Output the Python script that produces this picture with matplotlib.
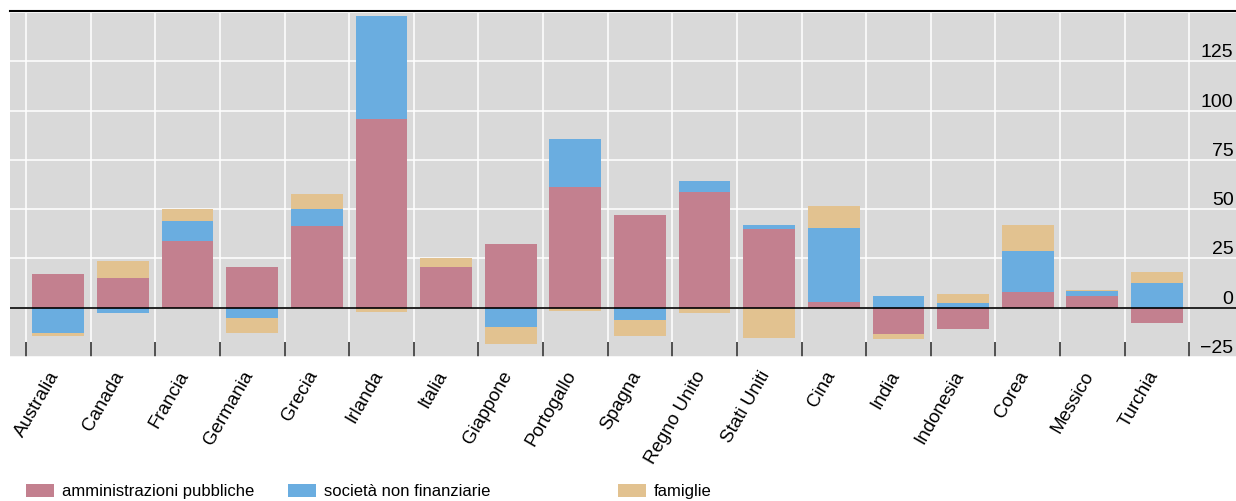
import numpy as np
import matplotlib
matplotlib.use("Agg")
import matplotlib.pyplot as plt
from matplotlib.lines import Line2D
from matplotlib.transforms import ScaledTranslation

plt.rcParams['font.family'] = ['Liberation Sans', 'DejaVu Sans']

paesi = ["Australia", "Canada", "Francia", "Germania", "Grecia", "Irlanda",
         "Italia", "Giappone", "Portogallo", "Spagna", "Regno Unito",
         "Stati Uniti", "Cina", "India", "Indonesia", "Corea", "Messico",
         "Turchia"]

# contributi per settore (punti percentuali)
amministrazioni = [16.9, 14.9, 33.8, 20.9, 41.7, 95.9, 20.9, 32.1, 61.5, 47.3,
                   58.9, 39.7, 2.7, -13.5, -11.0, 7.8, 5.7, -8.0]
societa = [-13.0, -2.9, 10.4, -5.4, 8.3, 52.3, 0.0, -10.0, 24.3, -6.4,
           5.6, 2.5, 38.0, 5.7, 2.2, 21.2, 2.6, 12.3]
famiglie = [-1.4, 8.6, 6.1, -7.6, 7.9, -2.4, 4.1, -8.6, -1.9, -8.1,
            -2.9, -15.6, 11.1, -2.6, 5.0, 13.2, 0.5, 5.6]

serie = [
    ("amministrazioni pubbliche", amministrazioni, "#c3808f"),
    ("società non finanziarie", societa, "#6aade0"),
    ("famiglie", famiglie, "#e2c290"),
]

yticks = [-25, 0, 25, 50, 75, 100, 125]

fig = plt.figure(figsize=(12.36, 5.01), dpi=100)
ax = fig.add_axes([10 / 1236, 1 - 357 / 501, 1 - 10 / 1236, (357 - 12.7) / 501])
ax.set_facecolor("#d9d9d9")

x = np.arange(len(paesi))
base_pos = np.zeros(len(paesi))
base_neg = np.zeros(len(paesi))
for nome, valori, colore in serie:
    v = np.array(valori)
    bottom = np.where(v >= 0, base_pos, base_neg)
    ax.bar(x, v, 0.8, bottom=bottom, color=colore, label=nome, zorder=2)
    base_pos = base_pos + np.clip(v, 0, None)
    base_neg = base_neg + np.clip(v, None, 0)

ax.axhline(0, color="black", lw=1.2, zorder=3)

ax.set_xlim(-0.748, len(paesi) - 0.5 + 0.723)
ax.set_ylim(-24.5, 149.7)

# griglia
ax.set_yticks(yticks)
ax.yaxis.grid(True, color="white", lw=1.1, zorder=1)
ax.set_xticks(np.arange(len(paesi) + 1) - 0.5, minor=True)
ax.xaxis.grid(True, which="minor", color="white", lw=1.1, zorder=1)
ax.set_axisbelow(True)
ax.tick_params(axis="y", length=0, labelleft=False)
ax.tick_params(axis="x", which="minor", direction="in", length=11, width=1.1,
               color="#222222")
ax.tick_params(axis="x", which="major", length=0, pad=8)
ax.set_xticks(x)
ax.set_xticklabels(paesi, rotation=60, ha="right", rotation_mode="anchor",
                   fontsize=13.5)
sposta = ScaledTranslation(-10 / 100, 0, fig.dpi_scale_trans)
for lab in ax.get_xticklabels():
    lab.set_transform(lab.get_transform() + sposta)
for s in ax.spines.values():
    s.set_visible(False)

for t in yticks:
    ax.text(0.998, t, "\u2212" + str(-t) if t < 0 else str(t),
            transform=ax.get_yaxis_transform(), ha="right", va="bottom",
            fontsize=14)

fig.add_artist(Line2D([10 / 1236, 1], [1 - 10.5 / 501] * 2, color="black", lw=1.5))

handles, labels = ax.get_legend_handles_labels()
legend_x = [19, 281, 611]
for h, l, lx in zip(handles, labels, legend_x):
    fig.legend([h], [l], loc="lower left", bbox_to_anchor=(lx / 1236, -0.010),
               frameon=False, fontsize=12, handlelength=1.7, handleheight=0.85,
               handletextpad=0.45, borderaxespad=0)

fig.savefig("out.png", dpi=100)
